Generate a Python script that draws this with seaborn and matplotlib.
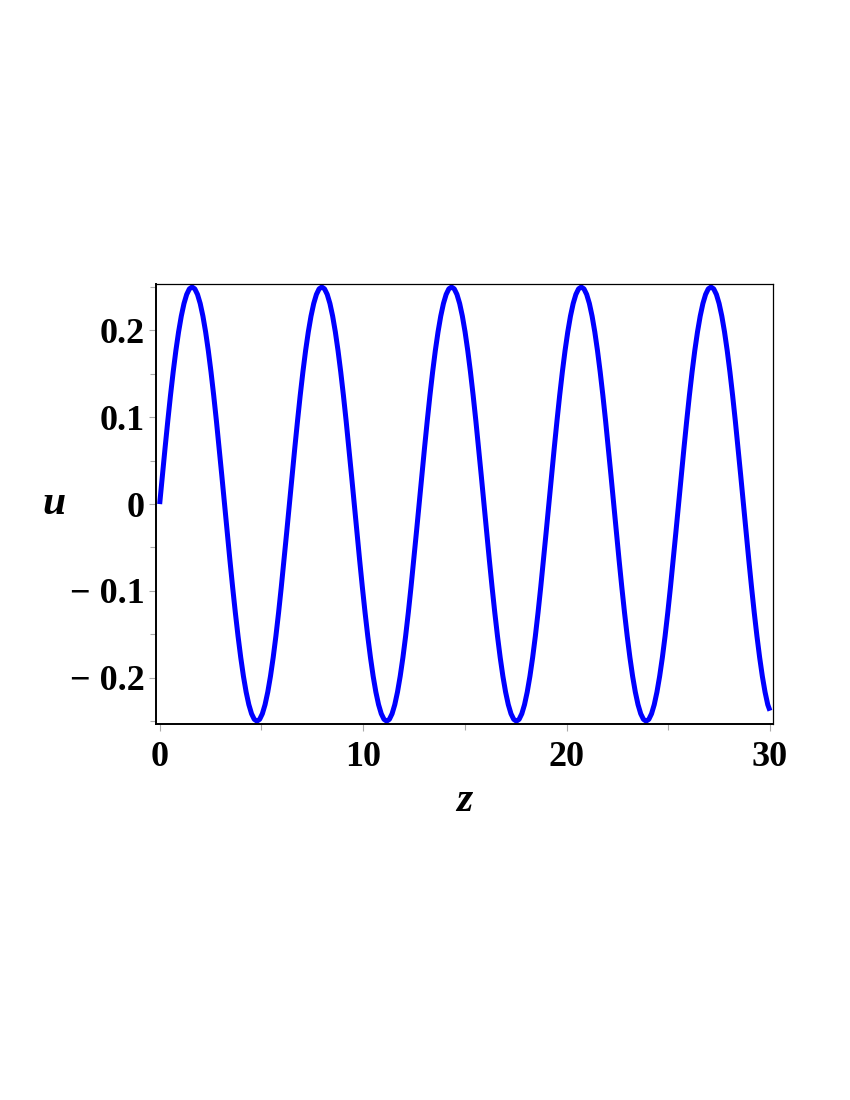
import matplotlib
matplotlib.use("Agg")
import matplotlib.pyplot as plt
import seaborn as sns
from matplotlib.ticker import MultipleLocator, FuncFormatter

# z positions (48 samples per period, period ~6.377)
z_vals = [
    0.000, 0.133, 0.266, 0.399, 0.531, 0.664, 0.797, 0.930, 1.063, 1.196, 1.329, 1.461,
    1.594, 1.727, 1.860, 1.993, 2.126, 2.259, 2.391, 2.524, 2.657, 2.790, 2.923, 3.056,
    3.188, 3.321, 3.454, 3.587, 3.720, 3.853, 3.986, 4.118, 4.251, 4.384, 4.517, 4.650,
    4.783, 4.916, 5.048, 5.181, 5.314, 5.447, 5.580, 5.713, 5.846, 5.978, 6.111, 6.244,
    6.377, 6.510, 6.643, 6.776, 6.908, 7.041, 7.174, 7.307, 7.440, 7.573, 7.706, 7.838,
    7.971, 8.104, 8.237, 8.370, 8.503, 8.636, 8.768, 8.901, 9.034, 9.167, 9.300, 9.433,
    9.565, 9.698, 9.831, 9.964, 10.097, 10.230, 10.363, 10.495, 10.628, 10.761, 10.894, 11.027,
    11.160, 11.293, 11.425, 11.558, 11.691, 11.824, 11.957, 12.090, 12.223, 12.355, 12.488, 12.621,
    12.754, 12.887, 13.020, 13.153, 13.285, 13.418, 13.551, 13.684, 13.817, 13.950, 14.083, 14.215,
    14.348, 14.481, 14.614, 14.747, 14.880, 15.013, 15.145, 15.278, 15.411, 15.544, 15.677, 15.810,
    15.942, 16.075, 16.208, 16.341, 16.474, 16.607, 16.740, 16.872, 17.005, 17.138, 17.271, 17.404,
    17.537, 17.670, 17.802, 17.935, 18.068, 18.201, 18.334, 18.467, 18.600, 18.732, 18.865, 18.998,
    19.131, 19.264, 19.397, 19.530, 19.662, 19.795, 19.928, 20.061, 20.194, 20.327, 20.460, 20.592,
    20.725, 20.858, 20.991, 21.124, 21.257, 21.390, 21.522, 21.655, 21.788, 21.921, 22.054, 22.187,
    22.319, 22.452, 22.585, 22.718, 22.851, 22.984, 23.117, 23.249, 23.382, 23.515, 23.648, 23.781,
    23.914, 24.047, 24.179, 24.312, 24.445, 24.578, 24.711, 24.844, 24.977, 25.109, 25.242, 25.375,
    25.508, 25.641, 25.774, 25.907, 26.039, 26.172, 26.305, 26.438, 26.571, 26.704, 26.837, 26.969,
    27.102, 27.235, 27.368, 27.501, 27.634, 27.767, 27.899, 28.032, 28.165, 28.298, 28.431, 28.564,
    28.696, 28.829, 28.962, 29.095, 29.228, 29.361, 29.494, 29.626, 29.759, 29.892,
    30.000,
]

# u values read at those positions
u_vals = [
    0.0, 0.0326, 0.0647, 0.0957, 0.125, 0.1522, 0.1768, 0.1983, 0.2165, 0.2310, 0.2415, 0.2479,
    0.25, 0.2479, 0.2415, 0.2310, 0.2165, 0.1983, 0.1768, 0.1522, 0.125, 0.0957, 0.0647, 0.0326,
    0.0, -0.0326, -0.0647, -0.0957, -0.125, -0.1522, -0.1768, -0.1983, -0.2165, -0.2310, -0.2415, -0.2479,
    -0.25, -0.2479, -0.2415, -0.2310, -0.2165, -0.1983, -0.1768, -0.1522, -0.125, -0.0957, -0.0647, -0.0326,
    0.0, 0.0326, 0.0647, 0.0957, 0.125, 0.1522, 0.1768, 0.1983, 0.2165, 0.2310, 0.2415, 0.2479,
    0.25, 0.2479, 0.2415, 0.2310, 0.2165, 0.1983, 0.1768, 0.1522, 0.125, 0.0957, 0.0647, 0.0326,
    0.0, -0.0326, -0.0647, -0.0957, -0.125, -0.1522, -0.1768, -0.1983, -0.2165, -0.2310, -0.2415, -0.2479,
    -0.25, -0.2479, -0.2415, -0.2310, -0.2165, -0.1983, -0.1768, -0.1522, -0.125, -0.0957, -0.0647, -0.0326,
    0.0, 0.0326, 0.0647, 0.0957, 0.125, 0.1522, 0.1768, 0.1983, 0.2165, 0.2310, 0.2415, 0.2479,
    0.25, 0.2479, 0.2415, 0.2310, 0.2165, 0.1983, 0.1768, 0.1522, 0.125, 0.0957, 0.0647, 0.0326,
    0.0, -0.0326, -0.0647, -0.0957, -0.125, -0.1522, -0.1768, -0.1983, -0.2165, -0.2310, -0.2415, -0.2479,
    -0.25, -0.2479, -0.2415, -0.2310, -0.2165, -0.1983, -0.1768, -0.1522, -0.125, -0.0957, -0.0647, -0.0326,
    0.0, 0.0326, 0.0647, 0.0957, 0.125, 0.1522, 0.1768, 0.1983, 0.2165, 0.2310, 0.2415, 0.2479,
    0.25, 0.2479, 0.2415, 0.2310, 0.2165, 0.1983, 0.1768, 0.1522, 0.125, 0.0957, 0.0647, 0.0326,
    0.0, -0.0326, -0.0647, -0.0957, -0.125, -0.1522, -0.1768, -0.1983, -0.2165, -0.2310, -0.2415, -0.2479,
    -0.25, -0.2479, -0.2415, -0.2310, -0.2165, -0.1983, -0.1768, -0.1522, -0.125, -0.0957, -0.0647, -0.0326,
    0.0, 0.0326, 0.0647, 0.0957, 0.125, 0.1522, 0.1768, 0.1983, 0.2165, 0.2310, 0.2415, 0.2479,
    0.25, 0.2479, 0.2415, 0.2310, 0.2165, 0.1983, 0.1768, 0.1522, 0.125, 0.0957, 0.0647, 0.0326,
    0.0, -0.0326, -0.0647, -0.0957, -0.125, -0.1522, -0.1768, -0.1983, -0.2165, -0.2310,
    -0.238,
]

x_ticks = [0, 10, 20, 30]
y_ticks = [-0.2, -0.1, 0.0, 0.1, 0.2]

sns.set_style("white")
plt.rcParams['font.family'] = ['Liberation Serif', 'DejaVu Serif']
plt.rcParams['font.weight'] = 'bold'
plt.rcParams['text.color'] = 'black'
plt.rcParams['xtick.labelcolor'] = 'black'
plt.rcParams['ytick.labelcolor'] = 'black'

fig = plt.figure(figsize=(8.5, 11), dpi=100)
ax = fig.add_axes([156 / 850, 1 - 724 / 1100, (773 - 156) / 850, (724 - 284) / 1100])

sns.lineplot(x=z_vals, y=u_vals, color='#0000ff', linewidth=3.6, ax=ax, sort=False,
             solid_joinstyle='round', solid_capstyle='butt')

ax.set_xlim(-0.18, 30.15)
ax.set_ylim(-0.2533, 0.2535)
ax.set_xticks(x_ticks)
ax.set_yticks(y_ticks)
ax.xaxis.set_minor_locator(MultipleLocator(5))
ax.yaxis.set_minor_locator(MultipleLocator(0.05))


def fmt_y(v, pos):
    if abs(v) < 1e-9:
        return '0'
    s = f'{abs(v):.1f}'
    return ('\u2212 ' + s) if v < 0 else s


ax.yaxis.set_major_formatter(FuncFormatter(fmt_y))
ax.xaxis.set_major_formatter(FuncFormatter(lambda v, p: f'{int(round(v))}'))

ax.tick_params(axis='both', which='both', direction='out', color='#aaaaaa',
               width=0.8, labelsize=26, labelcolor='black', bottom=True, left=True)
ax.tick_params(axis='both', which='major', length=5, pad=3)
ax.tick_params(axis='both', which='minor', length=4)
ax.tick_params(axis='x', which='major', pad=7)
for lab in ax.get_xticklabels() + ax.get_yticklabels():
    lab.set_fontweight('bold')

for side in ['left', 'bottom']:
    ax.spines[side].set_linewidth(1.4)
    ax.spines[side].set_color('black')
for side in ['top', 'right']:
    ax.spines[side].set_linewidth(0.9)
    ax.spines[side].set_color('black')

ax.set_xlabel('z', fontsize=30, fontweight='bold', fontstyle='italic', labelpad=6, color='black')
ax.set_ylabel('u', fontsize=30, fontweight='bold', fontstyle='italic', rotation=0, color='black')
ax.yaxis.set_label_coords(-0.165, 0.5)
ax.yaxis.label.set_verticalalignment('center')

fig.savefig('out.png', dpi=100)
